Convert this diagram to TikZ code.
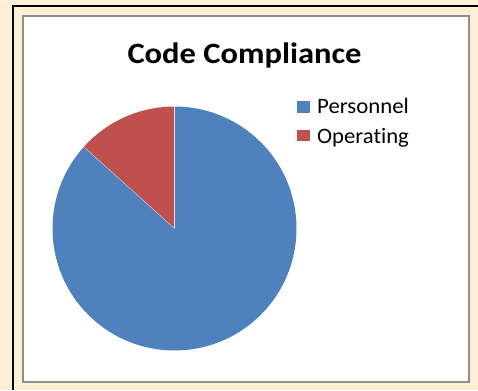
\documentclass[tikz,border=0pt]{standalone}
\usepackage{fontspec}
\setmainfont{Carlito}[Ligatures={NoCommon}]
\usepackage{graphicx}
\definecolor{bgbeige}{HTML}{FCEFD5}
\definecolor{piblue}{HTML}{4F81BD}
\definecolor{pired}{HTML}{C0504D}
\definecolor{framegray}{HTML}{8E8E8E}
\tikzset{
  legtext/.style={anchor=base west, inner sep=0pt, font=\fontsize{22}{24}\selectfont},
  legbox/.style={inner sep=0pt, minimum width=13pt, minimum height=11.5pt}
}
\begin{document}
\begin{tikzpicture}[x=1pt,y=1pt]
\useasboundingbox (0,0) rectangle (478,390);
\fill[bgbeige] (0,0) rectangle (478,390);
% outer black frame
\draw[black, line width=2pt] (13,0) -- (13,384) -- (478,384);
% chart area
\draw[framegray, fill=white, line width=2pt] (23.3,8) rectangle (469,374);
% title
\node[anchor=base, inner sep=0pt, font=\fontsize{29.5}{32}\selectfont\bfseries] (title) at (244.5,326.7)
  {\resizebox{234pt}{\height}{Code Compliance}};
% pie
\coordinate (c) at (174.5,161.5);
\fill[piblue] (c) -- ++(138:122) arc[start angle=138, end angle=450, radius=122] -- cycle;
\fill[pired] (c) -- ++(90:122) arc[start angle=90, end angle=138, radius=122] -- cycle;
\draw[white!80!pired, line width=0.4pt] (c) -- ++(90:122);
\draw[white!70!piblue, line width=0.4pt] (c) -- ++(138:122);
% legend
\node[legbox, fill=piblue, anchor=south west] (lb1) at (297,277) {};
\node[legtext] (lt1) at (317,276.7) {\resizebox{91.7pt}{\height}{Personnel}};
\node[legbox, fill=pired, anchor=south west] (lb2) at (297,248.3) {};
\node[legtext] (lt2) at (317,246.7) {\resizebox{91.7pt}{\height}{Operating}};
\end{tikzpicture}
\end{document}
